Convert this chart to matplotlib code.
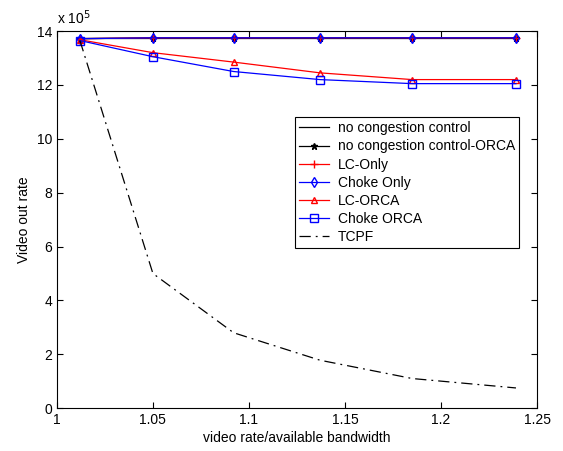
import matplotlib.pyplot as plt
import numpy as np

plt.rcParams['font.family'] = ['Liberation Sans', 'DejaVu Sans']

ratio = [1.012, 1.05, 1.092, 1.137, 1.185, 1.239]
no_cc = [13.75e5, 13.75e5, 13.75e5, 13.75e5, 13.75e5, 13.75e5]
no_cc_orca = [13.72e5, 13.75e5, 13.75e5, 13.75e5, 13.75e5, 13.75e5]
lc_only = [13.72e5, 13.75e5, 13.75e5, 13.75e5, 13.75e5, 13.75e5]
choke_only = [13.72e5, 13.75e5, 13.75e5, 13.75e5, 13.75e5, 13.75e5]
lc_orca = [13.68e5, 13.2e5, 12.85e5, 12.45e5, 12.2e5, 12.2e5]
choke_orca = [13.65e5, 13.05e5, 12.5e5, 12.2e5, 12.05e5, 12.05e5]
tcpf = [13.65e5, 5.0e5, 2.8e5, 1.78e5, 1.1e5, 0.75e5]

scale = 1e5
fig = plt.figure(figsize=(5.63, 4.51), dpi=100)
ax = fig.add_axes([0.101, 0.095, 0.853, 0.836])

x = np.array(ratio)
ax.plot(x, np.array(no_cc) / scale, '-', color='black', lw=0.9, label='no congestion control')
ax.plot(x, np.array(no_cc_orca) / scale, '-*', color='black', lw=0.9, ms=5,
        label='no congestion control-ORCA')
ax.plot(x, np.array(lc_only) / scale, '-+', color='red', lw=0.9, ms=6, label='LC-Only')
ax.plot(x, np.array(choke_only) / scale, '-d', color='blue', lw=0.9, ms=5, mfc='none',
        label='Choke Only')
ax.plot(x, np.array(lc_orca) / scale, '-^', color='red', lw=0.9, ms=5, mfc='none',
        label='LC-ORCA')
ax.plot(x, np.array(choke_orca) / scale, '-s', color='blue', lw=0.9, ms=6, mfc='none',
        label='Choke ORCA')
ax.plot(x, np.array(tcpf) / scale, color='black', lw=0.9, dashes=[9, 4, 1.5, 4],
        label='TCPF')

ax.set_xlim(1, 1.25)
ax.set_ylim(0, 14)
ax.set_xticks([1, 1.05, 1.1, 1.15, 1.2, 1.25])
ax.set_xticklabels(['1', '1.05', '1.1', '1.15', '1.2', '1.25'])
ax.set_yticks(range(0, 15, 2))
ax.tick_params(direction='in', top=True, right=True, labelsize=10, length=4)
for s in ax.spines.values():
    s.set_linewidth(0.8)

ax.set_xlabel('video rate/available bandwidth', fontsize=10, labelpad=3)
ax.set_ylabel('Video out rate', fontsize=10)
ax.text(0.0, 1.01, r'x 10$^5$', transform=ax.transAxes, fontsize=10, va='bottom')

leg = ax.legend(loc='upper right', bbox_to_anchor=(0.9625, 0.772), borderaxespad=0,
                fontsize=10, fancybox=False, framealpha=1, edgecolor='black',
                handlelength=2.2, handletextpad=0.6, labelspacing=0.3, borderpad=0.3)
leg.get_frame().set_linewidth(0.8)

fig.savefig('out.png', dpi=100)
